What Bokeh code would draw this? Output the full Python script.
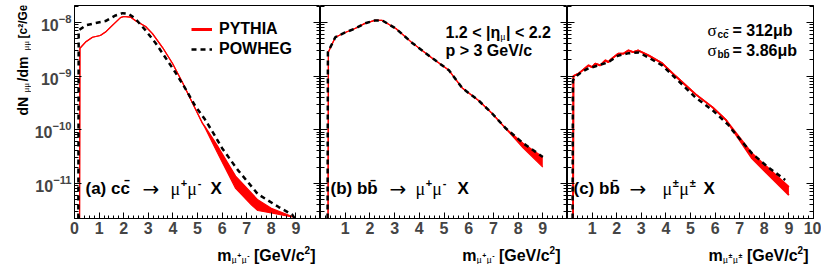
import math
from bokeh.plotting import figure
from bokeh.layouts import row, column
from bokeh.models import (Range1d, LogAxis, FixedTicker, LogTickFormatter, Label,
                          Legend, LegendItem, CustomJSTickFormatter)
from bokeh.embed import file_html
from bokeh.resources import INLINE

FONT = "Liberation Sans"
SERIF = "Liberation Serif"
SYM = "DejaVu Sans"

# ---------------- data ----------------
# (a) c cbar -> mu+ mu- X
a_pythia_x  = [0.2, 0.22, 0.45, 0.73, 1.05, 1.26, 1.54, 1.87, 2.0, 2.27, 2.5, 2.89, 3.17, 3.58,
               3.98, 4.39, 4.8, 5.2, 5.3, 5.8, 6.55, 7.2, 7.45, 8.0, 8.85]
a_pythia_hi = [1e-13, 3.3e-9, 4.3e-9, 5.3e-9, 5.7e-9, 6.6e-9, 8.8e-9, 1.23e-8, 1.29e-8, 1.26e-8,
               1.06e-8, 8.4e-9, 6.2e-9, 3.4e-9, 1.73e-9, 7.6e-10, 3.1e-10, 1.32e-10, 1.15e-10,
               5.1e-11, 1.36e-11, 6.5e-12, 4.9e-12, 3.4e-12, 2.4e-12]
a_pythia_lo = [1e-13, 3.3e-9, 4.3e-9, 5.3e-9, 5.7e-9, 6.6e-9, 8.8e-9, 1.23e-8, 1.29e-8, 1.26e-8,
               1.06e-8, 8.4e-9, 6.2e-9, 3.4e-9, 1.73e-9, 7.6e-10, 3.1e-10, 1.32e-10, 1.1e-10,
               3.8e-11, 8.0e-12, 3.9e-12, 3.1e-12, 2.8e-12, 2.35e-12]
a_powheg_x  = [0.15, 0.17, 0.45, 0.85, 1.26, 1.67, 1.95, 2.2, 2.48, 2.89, 3.3, 3.7, 4.1, 4.5,
               4.9, 5.3, 5.65, 6.0, 6.65, 7.45, 8.3, 8.85, 8.95]
a_powheg_y  = [1e-13, 7.1e-9, 8.8e-9, 9.7e-9, 1.06e-8, 1.35e-8, 1.49e-8, 1.45e-8, 1.17e-8, 7.1e-9,
               4.1e-9, 2.2e-9, 1.17e-9, 5.9e-10, 2.8e-10, 1.56e-10, 8.5e-11, 4.5e-11, 1.74e-11,
               6.3e-12, 3.6e-12, 2.6e-12, 2.2e-12]

# (b) b bbar -> mu+ mu- X
b_powheg_x  = [0.28, 0.3, 0.6, 1.0, 1.4, 1.8, 2.2, 2.5, 3.05, 3.7, 4.5, 5.2, 5.75, 6.4, 6.95,
               7.5, 8.2, 9.0]
b_powheg_y  = [1e-13, 2.8e-9, 5.3e-9, 6.5e-9, 7.7e-9, 9.6e-9, 1.09e-8, 1.09e-8, 7.7e-9, 4.2e-9,
               2.2e-9, 1.28e-9, 5.9e-10, 3.5e-10, 2.0e-10, 1.06e-10, 5.6e-11, 3.1e-11]
b_pythia_x  = [0.3, 0.32, 0.6, 1.0, 1.4, 1.8, 2.2, 2.5, 3.05, 3.7, 4.5, 5.2, 5.75, 6.4, 6.95,
               7.5, 8.2, 9.0]
b_pythia_hi = [1e-13, 2.8e-9, 5.3e-9, 6.5e-9, 7.7e-9, 9.6e-9, 1.09e-8, 1.09e-8, 7.7e-9, 4.2e-9,
               2.2e-9, 1.28e-9, 5.9e-10, 3.5e-10, 2.0e-10, 1.06e-10, 5.6e-11, 3.1e-11]
b_pythia_lo = [1e-13, 2.8e-9, 5.3e-9, 6.5e-9, 7.7e-9, 9.6e-9, 1.09e-8, 1.09e-8, 7.7e-9, 4.2e-9,
               2.2e-9, 1.28e-9, 5.9e-10, 3.5e-10, 2.0e-10, 1.04e-10, 4.6e-11, 2.0e-11]

# (c) b bbar -> mu+- mu+- X
c_powheg_x  = [0.2, 0.22, 0.4, 0.55, 0.85, 1.25, 1.65, 2.05, 2.45, 2.9, 3.3, 3.85, 4.4, 5.2,
               5.9, 6.55, 6.7, 7.5, 8.15, 8.85]
c_powheg_y  = [1e-13, 8.3e-10, 1.03e-9, 1.17e-9, 1.39e-9, 1.58e-9, 1.8e-9, 2.4e-9, 2.65e-9,
               2.76e-9, 2.2e-9, 1.58e-9, 9.1e-10, 4.0e-10, 2.3e-10, 1.21e-10, 9.8e-11, 3.6e-11,
               2.0e-11, 1.15e-11]
c_pythia_x  = [0.22, 0.24, 0.45, 0.85, 1.0, 1.13, 1.33, 1.54, 1.66, 1.8, 2.06, 2.27, 2.47, 2.67,
               2.88, 3.29, 3.85, 4.4, 5.2, 5.9, 6.45, 7.5, 9.0]
c_pythia_hi = [1e-13, 1.0e-9, 1.11e-9, 1.58e-9, 1.47e-9, 1.7e-9, 1.58e-9, 1.96e-9, 1.82e-9,
               2.11e-9, 2.61e-9, 2.61e-9, 3.0e-9, 2.8e-9, 3.0e-9, 2.43e-9, 1.73e-9, 9.9e-10,
               4.6e-10, 2.6e-10, 1.5e-10, 3.6e-11, 8.5e-12]
c_pythia_lo = [1e-13, 1.0e-9, 1.11e-9, 1.58e-9, 1.47e-9, 1.7e-9, 1.58e-9, 1.96e-9, 1.82e-9,
               2.11e-9, 2.61e-9, 2.61e-9, 3.0e-9, 2.8e-9, 3.0e-9, 2.43e-9, 1.73e-9, 9.9e-10,
               4.6e-10, 2.6e-10, 1.5e-10, 2.9e-11, 6.0e-12]

x_ticks = [0, 1, 2, 3, 4, 5, 6, 7, 8, 9, 10]
y_ticks = [1e-11, 1e-10, 1e-9, 1e-8]
legend_labels = ["PYTHIA", "POWHEG"]

YMIN, YMAX = 2.2e-12, 2.07e-8
FRAME_H = 213
TOP = 5          # space above the frames
XLAB_H = 22      # space for tick labels under the frames
YT_W = 31        # width of the strip holding the y axis title

# ---------------- helpers ----------------
_W = {' ': .278, '(': .333, ')': .333, '+': .584, '-': .333, '.': .278, '/': .278, '<': .584,
      '=': .584, '>': .584, '[': .333, ']': .333, '|': .28, '→': 1.0, 'μ': .576, 'η': .611,
      'σ': .611, '±': .584, '\u0304': 0.0, 'm': .889, 'i': .278, 'l': .278,
      'b': .611, 'd': .611, 'p': .611, 'G': .778, 'N': .722, 'V': .667, 'W': .944, 'X': .667,
      'P': .667, 'Y': .667, 'T': .611, 'H': .722, 'I': .278, 'O': .778, 'E': .667, 'A': .722}


def tw(s, size):
    tot = 0.0
    for ch in s:
        if ch in _W:
            tot += _W[ch]
        elif ch.isdigit():
            tot += .556
        elif ch.isupper():
            tot += .722
        else:
            tot += .556
    return tot * size


def put(p, x, y, s, size=15, bold=True, angle=0.0, align="left", font=FONT):
    p.add_layout(Label(x=x, y=y, x_units="screen", y_units="screen", text=s,
                       text_font=font, text_font_size=f"{size}px",
                       text_font_style="bold" if bold else "normal",
                       angle=angle, text_align=align, text_baseline="alphabetic",
                       text_color="black"))


def rich(p, x, y, pieces, angle=0.0):
    """pieces: (text, size, bold, raise_px, font); leading blanks become offsets."""
    cur = 0.0
    for s, size, bold, up, font in pieces:
        core = s.lstrip(" ")
        cur += tw(" ", size) * (len(s) - len(core))
        if angle == 0.0:
            put(p, x + cur, y + up, core, size, bold, font=font)
        else:
            put(p, x - up, y + cur, core, size, bold, angle=angle, font=font)
        cur += tw(core, size)
    return cur


minor_y = [m * 10.0 ** e for e in range(-12, -7) for m in range(2, 10)]
minor_x = [i / 5 for i in range(0, 51) if i % 5 != 0]


def style_y_axis(ax, labels):
    ax.ticker = FixedTicker(ticks=y_ticks, minor_ticks=minor_y)
    ax.formatter = LogTickFormatter() if labels else CustomJSTickFormatter(code="return ''")
    ax.major_tick_in = 7
    ax.major_tick_out = 0
    ax.minor_tick_in = 4
    ax.minor_tick_out = 0
    ax.major_tick_line_color = "black"
    ax.minor_tick_line_color = "black"
    ax.axis_line_color = "black"
    ax.major_label_text_font = FONT
    ax.major_label_text_font_style = "bold"
    ax.major_label_text_font_size = "16px"
    ax.major_label_standoff = 3 if labels else 0


def make_panel(frame_w, left, right, ylabels, hidden):
    p = figure(frame_width=frame_w, frame_height=FRAME_H, x_range=Range1d(0, 10),
               y_range=Range1d(YMIN, YMAX), y_axis_type="log",
               min_border_left=left, min_border_right=right, min_border_top=TOP,
               min_border_bottom=XLAB_H, output_backend="svg", toolbar_location=None)
    p.xgrid.visible = False
    p.ygrid.visible = False
    p.outline_line_color = "black"
    p.outline_line_width = 1
    xa = p.xaxis[0]
    xa.ticker = FixedTicker(ticks=x_ticks, minor_ticks=minor_x)
    xa.major_label_overrides = {h: "" for h in hidden}
    xa.major_tick_in = 6
    xa.major_tick_out = 0
    xa.minor_tick_in = 3
    xa.minor_tick_out = 0
    xa.axis_line_color = "black"
    xa.major_label_text_font = FONT
    xa.major_label_text_font_style = "bold"
    xa.major_label_text_font_size = "16px"
    xa.major_label_standoff = 3
    style_y_axis(p.yaxis[0], ylabels)
    ra = LogAxis()
    style_y_axis(ra, False)
    p.add_layout(ra, "right")
    return p


def text_strip(w, h):
    t = figure(width=w, height=h, x_range=Range1d(0, 1), y_range=Range1d(0, 1),
               min_border=0, x_axis_location=None, y_axis_location=None,
               output_backend="svg", toolbar_location=None)
    t.xgrid.visible = False
    t.ygrid.visible = False
    t.outline_line_color = None
    return t


def draw(p, px_, lo, hi, wx, wy, red_w):
    p.varea(x=px_, y1=lo, y2=hi, fill_color="red", fill_alpha=1.0)
    p.line(x=px_, y=hi, line_color="red", line_width=red_w)
    p.line(x=px_, y=lo, line_color="red", line_width=red_w)
    p.line(x=wx, y=wy, line_color="black", line_width=2.5, line_dash="5 4")


P1_LEFT = 69 - YT_W
p1 = make_panel(246, P1_LEFT, 0, True, [10])
p2 = make_panel(247, 0, 0, False, [0, 10])
p3 = make_panel(246, 0, 8, False, [0])

draw(p1, a_pythia_x, a_pythia_lo, a_pythia_hi, a_powheg_x, a_powheg_y, 1.2)
draw(p2, b_pythia_x, b_pythia_lo, b_pythia_hi, b_powheg_x, b_powheg_y, 1.2)
draw(p3, c_pythia_x, c_pythia_lo, c_pythia_hi, c_powheg_x, c_powheg_y, 1.8)

# legend (hidden copies so that the key lines are thicker)
r_red = p1.line(x=a_pythia_x, y=a_pythia_hi, line_color="red", line_width=3, visible=False)
r_blk = p1.line(x=a_powheg_x, y=a_powheg_y, line_color="black", line_width=2.5,
                line_dash="5 4", visible=False)
leg = Legend(items=[LegendItem(label=legend_labels[0], renderers=[r_red]),
                    LegendItem(label=legend_labels[1], renderers=[r_blk])],
             location=(117, 159), label_text_font=FONT, label_text_font_style="bold",
             label_text_font_size="16px", label_text_color="black",
             glyph_width=21, glyph_height=20, label_height=20,
             label_standoff=7, spacing=0, padding=0, margin=0, border_line_color=None,
             background_fill_alpha=0, click_policy="none")
p1.add_layout(leg)

# panel labels
ybase = 30
for p, lab, xs, mu in ((p1, "(a) cc\u0304", (11, 68, 96, 136), ("+", "-")),
                       (p2, "(b) bb\u0304", (10, 69, 95, 137), ("+", "-")),
                       (p3, "(c) bb\u0304", (6, 62, 95, 136), ("±", "±"))):
    put(p, xs[0], ybase, lab, 17, True)
    put(p, xs[1], ybase, "→", 20, False, font=SYM)
    rich(p, xs[2], ybase, [("μ", 18, False, 0, SERIF), (mu[0], 11, True, 6, FONT),
                           ("μ", 18, False, 0, SERIF), (mu[1], 11, True, 6, FONT)])
    put(p, xs[3], ybase, "X", 17, True)

# cuts (panel b)
rich(p2, 125, 186, [("1.2 < |η", 16, True, 0, FONT), ("μ", 10, False, -4, SERIF),
                    ("| < 2.2", 16, True, 0, FONT)])
put(p2, 125, 168, "p > 3 GeV/c", 16, True)

# cross sections (panel c)
for yb, sub, val in ((188, "cc\u0304", "= 312μb"), (168, "bb\u0304", "= 3.86μb")):
    put(p3, 140, yb, "σ", 17, False, font=SERIF)
    put(p3, 150, yb - 4, sub, 10, True)
    put(p3, 165, yb, val, 16, True)

# ---- y axis title strip (rotated text; pieces anchored at page rows) ----
H_MAIN = TOP + FRAME_H + XLAB_H
yt = text_strip(YT_W, H_MAIN)
ROT = math.pi / 2
BASE_X = 22
for s, size, bold, low, font, page_y in (("dN", 14, True, 0, FONT, 137),
                                         ("μμ", 9, False, 3, SERIF, 114),
                                         ("/dm", 14, True, 0, FONT, 103),
                                         ("μμ", 9, False, 3, SERIF, 72),
                                         ("[c²/GeV]", 12, True, 0, FONT, 60)):
    put(yt, BASE_X + low, H_MAIN - page_y, s, size, bold, angle=ROT, font=font)

# ---- x axis title strip ----
W_ALL = YT_W + P1_LEFT + 246 + 247 + 246 + 8
XT_H = 24
xt = text_strip(W_ALL, XT_H)
for xr, sub in ((315, ("μ", "+", "μ", "-")), (560, ("μ", "+", "μ", "-")),
                (808, ("μ", "±", "μ", "±"))):
    pieces = [("m", 16, True, 0, FONT),
              (sub[0], 10, False, -4, SERIF), (sub[1], 7, True, 0, FONT),
              (sub[2], 10, False, -4, SERIF), (sub[3], 7, True, 0, FONT),
              (" [GeV/c", 16, True, 0, FONT), ("2", 10, True, 6, FONT), ("]", 16, True, 0, FONT)]
    total = sum(tw(s, sz) for s, sz, _, _, _ in pieces)
    rich(xt, xr - total, XT_H - (255 - H_MAIN), pieces)

layout = column(row(yt, p1, p2, p3, spacing=0), xt, spacing=0)
open("out.html", "w").write(file_html(layout, INLINE))
